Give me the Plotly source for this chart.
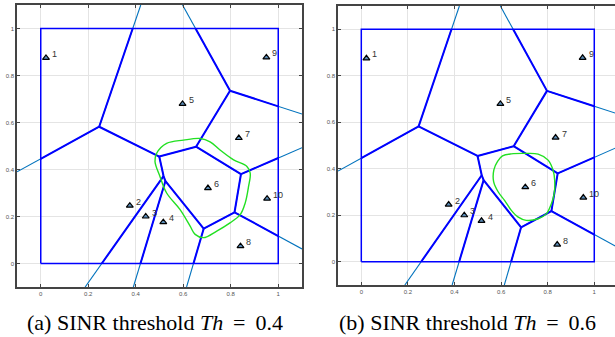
import plotly.graph_objects as go

# ---------------- data ----------------
station_x = [0.022, 0.375, 0.442, 0.516, 0.597, 0.704, 0.834, 0.841, 0.950, 0.953]
station_y = [0.875, 0.246, 0.200, 0.176, 0.679, 0.321, 0.534, 0.074, 0.877, 0.276]
station_labels = ["1", "2", "3", "4", "5", "6", "7", "8", "9", "10"]

# cell-boundary vertices (inner vertices, then end points on the plot edge)
vertex_x = [0.246, 0.499, 0.654, 0.797, 0.517, 0.525, 0.686, 0.816, 0.843,
            -0.1, 0.421, 0.597, 1.1, 1.1, 1.1, 0.614, 0.187, 0.390]
vertex_y = [0.582, 0.455, 0.497, 0.735, 0.372, 0.351, 0.148, 0.218, 0.380,
            0.390, 1.1, 1.1, 0.636, 0.493, 0.062, -0.1, -0.1, -0.1]
edges = [(9, 0), (0, 10), (0, 1), (1, 2), (2, 3), (3, 11), (3, 12), (2, 8),
         (8, 13), (8, 7), (7, 14), (7, 6), (6, 15), (1, 4), (4, 16), (4, 5),
         (5, 17), (5, 6)]

# SINR threshold contour of cell 6
contour_a_x = [0.488, 0.530, 0.601, 0.671, 0.713, 0.755, 0.812, 0.868, 0.882, 0.875,
               0.861, 0.840, 0.797, 0.741, 0.685, 0.650, 0.629, 0.586, 0.530, 0.502, 0.481]
contour_a_y = [0.469, 0.511, 0.525, 0.532, 0.518, 0.483, 0.441, 0.413, 0.385, 0.328,
               0.258, 0.208, 0.173, 0.138, 0.110, 0.124, 0.159, 0.230, 0.300, 0.370, 0.434]
contour_b_x = [0.701, 0.759, 0.802, 0.823, 0.830, 0.828, 0.816, 0.795, 0.759, 0.708,
               0.672, 0.644, 0.615, 0.588, 0.568, 0.569, 0.585, 0.606, 0.644]
contour_b_y = [0.466, 0.463, 0.437, 0.394, 0.351, 0.293, 0.250, 0.207, 0.185, 0.178,
               0.193, 0.221, 0.264, 0.300, 0.345, 0.395, 0.432, 0.455, 0.464]

tick_vals = [0, 0.2, 0.4, 0.6, 0.8, 1]
tick_text = ["0", "0.2", "0.4", "0.6", "0.8", "1"]
captions = ["(a) SINR threshold <i>Th</i> \u2009=\u2009 0.4",
            "(b) SINR threshold <i>Th</i> \u2009=\u2009 0.6"]

BLUE = "#0000ff"
LIGHT = "#0072BD"
GREEN = "#22e022"


def clip(x0, y0, x1, y1):
    """Liang-Barsky clip of a segment to the unit square."""
    dx, dy = x1 - x0, y1 - y0
    t0, t1 = 0.0, 1.0
    for p, q in ((-dx, x0), (dx, 1 - x0), (-dy, y0), (dy, 1 - y0)):
        if p == 0:
            if q < 0:
                return None
        else:
            r = q / p
            if p < 0:
                t0 = max(t0, r)
            else:
                t1 = min(t1, r)
    if t0 > t1:
        return None
    return (x0 + t0 * dx, y0 + t0 * dy, x0 + t1 * dx, y0 + t1 * dy)


full_x, full_y, in_x, in_y = [], [], [], []
for a, b in edges:
    full_x += [vertex_x[a], vertex_x[b], None]
    full_y += [vertex_y[a], vertex_y[b], None]
    c = clip(vertex_x[a], vertex_y[a], vertex_x[b], vertex_y[b])
    if c:
        in_x += [c[0], c[2], None]
        in_y += [c[1], c[3], None]

fig = go.Figure()
contours = [(contour_a_x, contour_a_y), (contour_b_x, contour_b_y)]
annotations = []

for k in range(2):
    xa = "x" if k == 0 else "x2"
    ya = "y" if k == 0 else "y2"
    fig.add_trace(go.Scatter(x=full_x, y=full_y, mode="lines",
                             line=dict(color=LIGHT, width=1.1), xaxis=xa, yaxis=ya,
                             showlegend=False, hoverinfo="skip"))
    fig.add_trace(go.Scatter(x=[0, 1, 1, 0, 0], y=[0, 0, 1, 1, 0], mode="lines",
                             line=dict(color=BLUE, width=1.5), xaxis=xa, yaxis=ya,
                             showlegend=False, hoverinfo="skip"))
    fig.add_trace(go.Scatter(x=in_x, y=in_y, mode="lines",
                             line=dict(color=BLUE, width=2), xaxis=xa, yaxis=ya,
                             showlegend=False, hoverinfo="skip"))
    cx, cy = contours[k]
    fig.add_trace(go.Scatter(x=cx + [cx[0]], y=cy + [cy[0]], mode="lines",
                             line=dict(color=GREEN, width=1.4, shape="spline", smoothing=1.0),
                             xaxis=xa, yaxis=ya, showlegend=False, hoverinfo="skip"))
    fig.add_trace(go.Scatter(x=station_x, y=station_y, mode="markers",
                             marker=dict(symbol="triangle-up", size=6, color="#5b8db8",
                                         line=dict(color="black", width=1.2)),
                             xaxis=xa, yaxis=ya, showlegend=False, hoverinfo="skip"))
    for sx, sy, lab in zip(station_x, station_y, station_labels):
        annotations.append(dict(x=sx, y=sy, xref=xa, yref=ya, text=lab, showarrow=False,
                                xanchor="left", yanchor="middle", xshift=4, yshift=4,
                                font=dict(family="Liberation Sans", size=9, color="#333333")))

axis_common = dict(
    tickvals=tick_vals, ticktext=tick_text, ticks="inside", ticklen=3, tickcolor="#444444",
    showline=True, linecolor="#444444", linewidth=1.5, showgrid=True, gridcolor="#e4e4e4",
    gridwidth=1, zeroline=False, tickfont=dict(family="Liberation Sans", size=6, color="#555555"),
    automargin=False, fixedrange=True,
)

for k, cx_pix in enumerate([155, 467]):
    annotations.append(dict(text=captions[k], x=cx_pix / 615, y=(337 - 322) / 337,
                            xref="paper", yref="paper", showarrow=False,
                            xanchor="center", yanchor="middle",
                            font=dict(family="Liberation Serif", size=22, color="black")))

fig.update_layout(
    width=615, height=337, margin=dict(l=0, r=0, t=0, b=0),
    paper_bgcolor="white", plot_bgcolor="white",
    xaxis=dict(domain=[17 / 615, 302 / 615], range=[-0.1, 1.1], mirror="ticks",
               anchor="y", **axis_common),
    yaxis=dict(domain=[1 - 287 / 337, 1 - 5 / 337], range=[-0.1, 1.1], mirror="ticks",
               anchor="x", **axis_common),
    xaxis2=dict(domain=[338 / 615, 1.0], range=[-0.1, 1.089], mirror="ticks",
                anchor="y2", **axis_common),
    yaxis2=dict(domain=[1 - 285 / 337, 1 - 6 / 337], range=[-0.1, 1.1], mirror=False,
                anchor="x2", **axis_common),
    annotations=annotations,
)

fig.write_html("out.html", config={"displayModeBar": False},
               post_script="document.body.style.margin='0px';document.body.style.overflow='hidden';")
